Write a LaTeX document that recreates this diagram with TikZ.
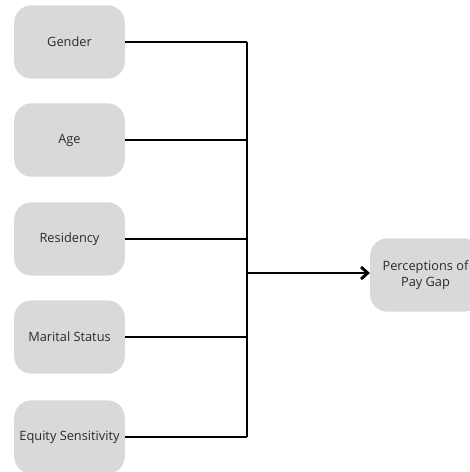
\documentclass[tikz,border=0pt]{standalone}
\usepackage{fontspec}
\setmainfont{Open Sans}
\usetikzlibrary{arrows.meta}
\definecolor{boxgray}{HTML}{D9D9D9}
\definecolor{textgray}{HTML}{2B2B2B}

\begin{document}
\begin{tikzpicture}[x=0.75pt,y=-0.75pt,
    factor/.style={fill=boxgray,rounded corners=13pt,minimum width=83pt,minimum height=55pt,
        inner sep=1pt,align=center,text=textgray,font=\fontsize{9.6}{12}\selectfont},
    link/.style={line width=1.8pt}]
    \useasboundingbox (0,0) rectangle (470,472);
    %\draw[very thin,color=gray] (0,0) grid[step=50] (470,472);
    \node [factor] (gender) at (69.5,42) {Gender};
    \node [factor] (age) at (69.5,140) {Age};
    \node [factor] (residency) at (69.5,239) {Residency};
    \node [factor] (marital) at (69.5,337) {Marital Status};
    \node [factor] (equity) at (69.5,437) {Equity Sensitivity};
    \node [factor] (paygap) at (425.5,275) {Perceptions of\\Pay Gap};
    \coordinate (bus) at (247,273);
    \draw [link] (gender.east) -- (gender.east -| bus);
    \draw [link] (age.east) -- (age.east -| bus);
    \draw [link] (residency.east) -- (residency.east -| bus);
    \draw [link] (marital.east) -- (marital.east -| bus);
    \draw [link] (equity.east) -- (equity.east -| bus);
    \draw [link] (gender.east -| bus) -- (equity.east -| bus);
    \draw [link] [-{Straight Barb[length=5pt,width=9pt,line width=2.2pt]}] (bus) -- (bus -| paygap.west);

\end{tikzpicture}
\end{document}
